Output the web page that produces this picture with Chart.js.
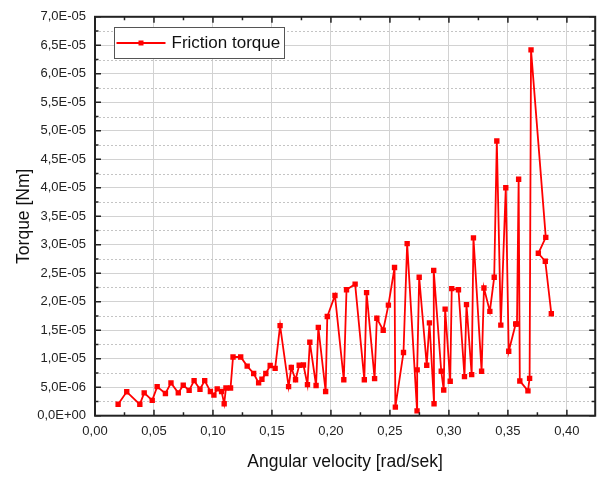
<!DOCTYPE html>
<html>
<head>
<meta charset="utf-8">
<script src="https://cdn.jsdelivr.net/npm/chart.js@4.4.0/dist/chart.umd.min.js"></script>
<style>
html,body{margin:0;padding:0;background:#ffffff;}
#wrap{width:599px;height:477px;position:relative;}
</style>
</head>
<body>
<div id="wrap"><canvas id="c" width="599" height="477"></canvas></div>
<script>
// ---- data ----
const seriesLabel = 'Friction torque';
const xTitle = 'Angular velocity [rad/sek]';
const yTitle = 'Torque [Nm]';

const angularVelocity = [
  0.0196,0.0269,0.0380,0.0417,0.0485,0.0527,0.0597,0.0644,0.0706,0.0748,
  0.0798,0.0840,0.0890,0.0930,0.0978,0.1008,0.1036,0.1073,0.1095,0.1110,
  0.1149,0.1170,0.1235,0.1290,0.1345,0.1387,0.1415,0.1448,0.1485,0.1527,
  0.1569,0.1641,0.1664,0.1700,0.1731,0.1767,0.1801,0.1821,0.1874,0.1893,
  0.1955,0.1969,0.2034,0.2109,0.2132,0.2205,0.2283,0.2302,0.2370,0.2389,
  0.2443,0.2487,0.2539,0.2546,0.2615,0.2646,0.2730,0.2731,0.2748,0.2812,
  0.2835,0.2874,0.2871,0.2935,0.2956,0.2968,0.3011,0.3024,0.3081,0.3132,
  0.3149,0.3193,0.3208,0.3277,0.3297,0.3347,0.3384,0.3406,0.3440,0.3482,
  0.3507,0.3566,0.3577,0.3591,0.3601,0.3670,0.3684,0.3696,0.3821,0.3758,
  0.3817,0.3868
];

const frictionTorque = [
  2.0e-6,4.2e-6,2.0e-6,4.0e-6,2.7e-6,5.1e-6,3.9e-6,5.75e-6,4.0e-6,5.35e-6,
  4.45e-6,6.15e-6,4.65e-6,6.15e-6,4.25e-6,3.6e-6,4.7e-6,4.25e-6,2.1e-6,4.85e-6,
  4.85e-6,1.03e-5,1.03e-5,8.7e-6,7.4e-6,5.75e-6,6.4e-6,7.4e-6,8.8e-6,8.3e-6,
  1.58e-5,5.1e-6,8.45e-6,6.3e-6,8.85e-6,8.9e-6,5.45e-6,1.29e-5,5.3e-6,1.55e-5,
  4.25e-6,1.74e-5,2.11e-5,6.3e-6,2.21e-5,2.31e-5,6.3e-6,2.16e-5,6.5e-6,1.71e-5,
  1.50e-5,1.94e-5,2.60e-5,1.5e-6,1.11e-5,3.02e-5,0.85e-6,8.05e-6,2.43e-5,8.85e-6,
  1.63e-5,2.1e-6,2.55e-5,7.8e-6,4.5e-6,1.87e-5,6.05e-6,2.23e-5,2.21e-5,6.85e-6,
  1.95e-5,7.2e-6,3.12e-5,7.8e-6,2.24e-5,1.83e-5,2.43e-5,4.82e-5,1.59e-5,4.00e-5,
  1.13e-5,1.61e-5,1.61e-5,4.15e-5,6.1e-6,4.35e-6,6.55e-6,6.42e-5,3.13e-5,2.85e-5,
  2.71e-5,1.79e-5
];

const xMin = 0, xMax = 0.424, xStep = 0.05;
const yMin = 0, yMax = 7.0e-5, yStep = 5.0e-6;

// ---- helpers ----
const FONT = "'Liberation Sans', Arial, sans-serif";
function sciLabel(v){
  if (Math.abs(v) < 1e-12) return '0,0E+00';
  const s = Number(v).toExponential(1);
  const parts = s.split('e');
  const n = parseInt(parts[1], 10);
  return parts[0].replace('.', ',') + 'E' + (n < 0 ? '-' : '+') + String(Math.abs(n)).padStart(2, '0');
}

const points = angularVelocity.map((x, i) => ({x: x, y: frictionTorque[i]}));

const framePlugin = {
  id: 'frame',
  beforeDatasetsDraw(chart){
    const {ctx, chartArea: a, scales} = chart;
    const ys = scales.y;
    ctx.save();
    ctx.strokeStyle = '#c4c4c4';
    ctx.lineWidth = 1;
    ctx.setLineDash([2, 2]);
    for (let k = 1; k * yStep / 2 < yMax; k += 2) {
      const py = Math.round(ys.getPixelForValue(k * yStep / 2)) + 0.5;
      ctx.beginPath(); ctx.moveTo(a.left, py); ctx.lineTo(a.right, py); ctx.stroke();
    }
    ctx.restore();
  },
  afterDatasetsDraw(chart){
    const {ctx, chartArea: a, scales} = chart;
    const xs = scales.x, ys = scales.y;
    ctx.save();
    ctx.strokeStyle = '#222222';
    ctx.lineWidth = 1.5;
    for (let k = 0; k * xStep / 2 <= xMax + 1e-9; k++) {
      const v = k * xStep / 2;
      const len = (k % 2 === 0) ? 6 : 3.5;
      const px = xs.getPixelForValue(v);
      ctx.beginPath();
      ctx.moveTo(px, a.bottom); ctx.lineTo(px, a.bottom - len);
      ctx.moveTo(px, a.top); ctx.lineTo(px, a.top + len);
      ctx.stroke();
    }
    for (let k = 0; k * yStep / 2 <= yMax + 1e-12; k++) {
      const v = k * yStep / 2;
      const len = (k % 2 === 0) ? 6 : 3.5;
      const py = ys.getPixelForValue(v);
      ctx.beginPath();
      ctx.moveTo(a.left, py); ctx.lineTo(a.left + len, py);
      ctx.moveTo(a.right, py); ctx.lineTo(a.right - len, py);
      ctx.stroke();
    }
    ctx.lineWidth = 2;
    ctx.strokeRect(a.left, a.top, a.right - a.left, a.bottom - a.top);
    ctx.restore();
  },
  afterDraw(chart){
    const {ctx} = chart;
    const ds = chart.data.datasets[0];
    ctx.save();
    const bx = 114.5, by = 27.5, bw = 170, bh = 31;
    ctx.fillStyle = '#ffffff';
    ctx.fillRect(bx, by, bw, bh);
    ctx.strokeStyle = '#555555';
    ctx.lineWidth = 1;
    ctx.strokeRect(bx, by, bw, bh);
    const cy = by + bh / 2;
    ctx.strokeStyle = ds.borderColor;
    ctx.lineWidth = 1.8;
    ctx.beginPath(); ctx.moveTo(116.5, cy); ctx.lineTo(165.5, cy); ctx.stroke();
    ctx.fillStyle = ds.borderColor;
    ctx.fillRect(141 - 2.5, cy - 2.5, 5, 5);
    ctx.fillStyle = '#111111';
    ctx.font = '17px ' + FONT;
    ctx.textBaseline = 'middle';
    ctx.textAlign = 'left';
    ctx.fillText(ds.label, 171.5, cy + 0.5);
    ctx.restore();
  }
};

new Chart(document.getElementById('c'), {
  type: 'scatter',
  data: {
    datasets: [{
      label: seriesLabel,
      data: points,
      showLine: true,
      borderColor: '#ff0000',
      backgroundColor: '#ff0000',
      borderWidth: 1.8,
      tension: 0,
      pointStyle: 'rect',
      pointRadius: 3.8,
      pointBorderWidth: 0,
      pointBackgroundColor: '#ff0000',
      pointHoverRadius: 3.8
    }]
  },
  options: {
    responsive: false,
    animation: false,
    devicePixelRatio: 1,
    layout: { padding: { top: 9.5, right: 0.5, left: 0, bottom: 0 } },
    plugins: { legend: { display: false }, tooltip: { enabled: false } },
    scales: {
      x: {
        type: 'linear', position: 'bottom', min: xMin, max: xMax,
        afterFit: s => { s.height = 61.3; },
        ticks: {
          stepSize: xStep, includeBounds: false, autoSkip: false, maxRotation: 0,
          padding: 8, color: '#222222', font: { family: FONT, size: 13 },
          callback: v => Number(v).toFixed(2).replace('.', ',')
        },
        grid: { color: '#d2d2d2', lineWidth: 1, drawTicks: false },
        border: { display: false },
        title: { display: true, text: xTitle, color: '#111111',
          font: { family: FONT, size: 17.5 }, padding: { top: 0, bottom: 4.8 } }
      },
      y: {
        type: 'linear', position: 'left', min: yMin, max: yMax,
        afterFit: s => { s.width = 95; },
        ticks: {
          stepSize: yStep, includeBounds: false, autoSkip: false,
          padding: 9, color: '#222222', font: { family: FONT, size: 13 },
          callback: v => sciLabel(v)
        },
        grid: { color: '#d2d2d2', lineWidth: 1, drawTicks: false },
        border: { display: false },
        title: { display: true, text: yTitle, color: '#111111',
          font: { family: FONT, size: 17.5 }, padding: { top: 13.5, bottom: 0 } }
      }
    }
  },
  plugins: [framePlugin]
});
</script>
</body>
</html>
